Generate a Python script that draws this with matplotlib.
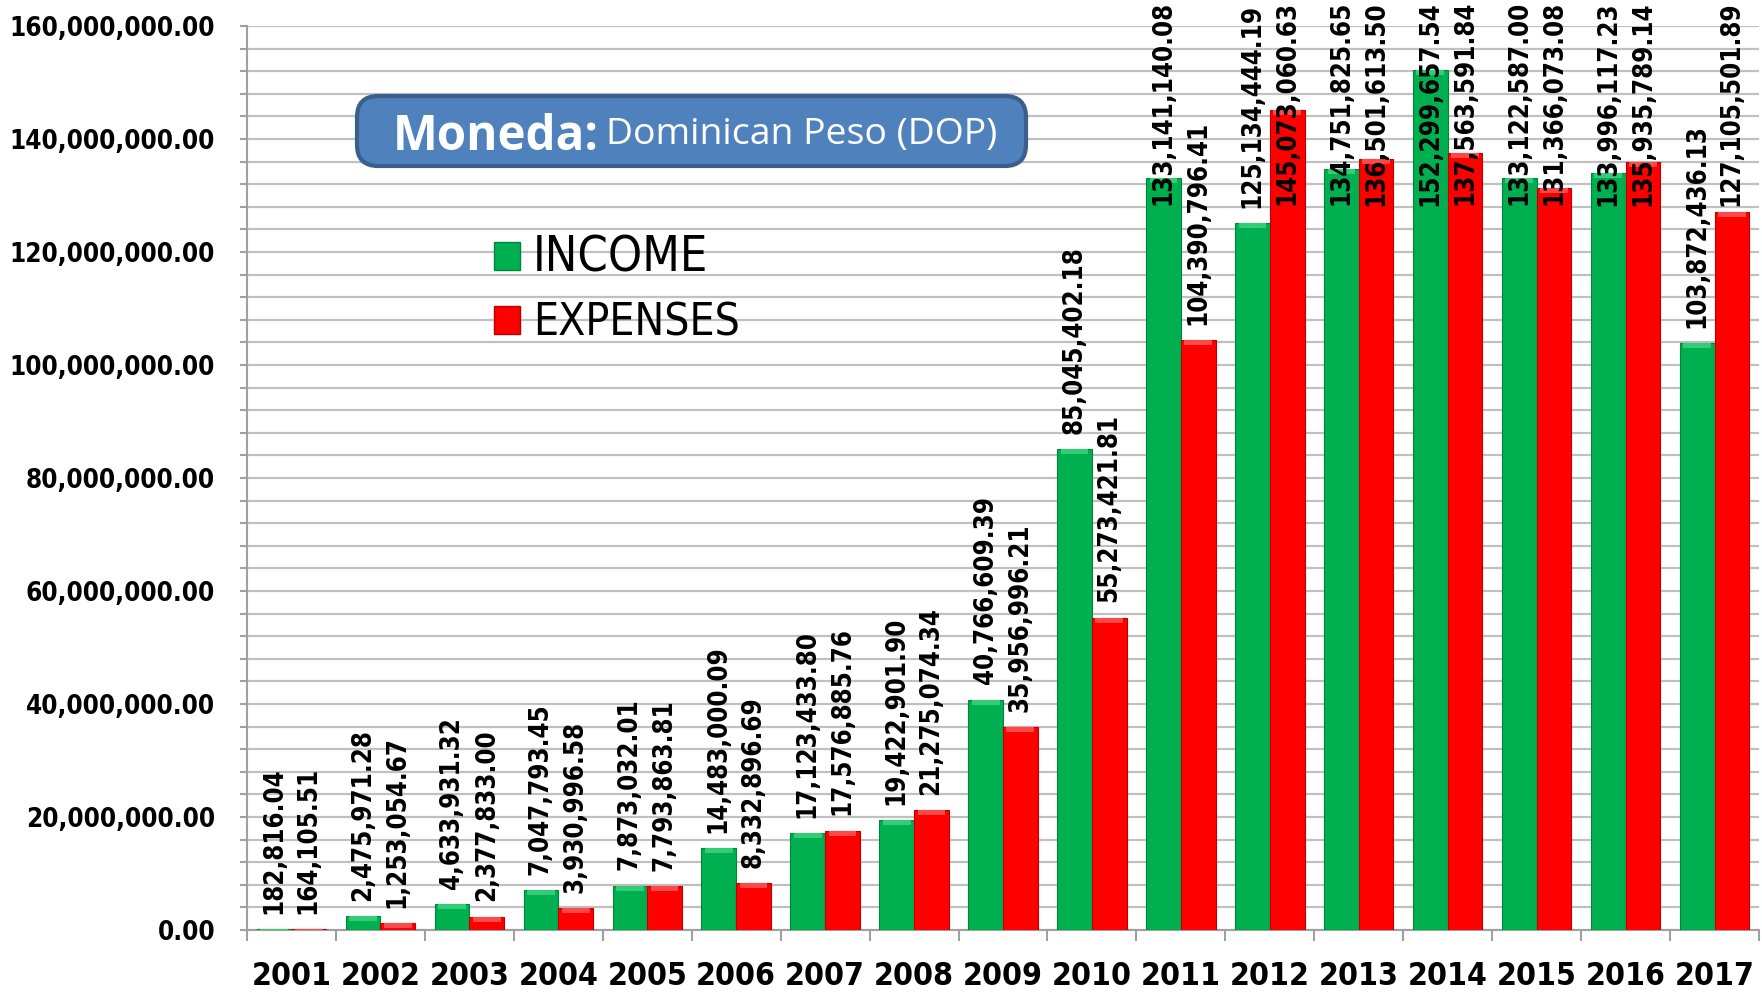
import matplotlib
matplotlib.use("Agg")
import matplotlib.pyplot as plt
import numpy as np
from matplotlib.patches import FancyBboxPatch, Rectangle
from matplotlib.ticker import MultipleLocator, FuncFormatter
from matplotlib import font_manager as fm
from matplotlib.textpath import TextPath
from matplotlib.font_manager import FontProperties

years = ["2001", "2002", "2003", "2004", "2005", "2006", "2007", "2008", "2009",
         "2010", "2011", "2012", "2013", "2014", "2015", "2016", "2017"]
income = [182816.04, 2475971.28, 4633931.32, 7047793.45, 7873032.01, 14483000.09,
          17123433.80, 19422901.90, 40766609.39, 85045402.18, 133141140.08,
          125134444.19, 134751825.65, 152299657.54, 133122587.00, 133996117.23,
          103872436.13]
expenses = [164105.51, 1253054.67, 2377833.00, 3930996.58, 7793863.81, 8332896.69,
            17576885.76, 21275074.34, 35956996.21, 55273421.81, 104390796.41,
            145073060.63, 136501613.50, 137563591.84, 131366073.08, 135935789.14,
            127105501.89]
series_names = ["INCOME", "EXPENSES"]
title_bold = "Moneda:"
title_rest = "Dominican Peso (DOP)"

W, H, DPI = 1762, 996, 100


def pick_narrow():
    names = {f.name for f in fm.fontManager.ttflist}
    if "Liberation Sans Narrow" in names:
        return "Liberation Sans Narrow", "normal"
    for f in fm.fontManager.ttflist:
        if f.name == "DejaVu Sans" and "Condensed" in f.fname:
            return "DejaVu Sans", "condensed"
    if "Roboto" in names:
        return "Roboto", "normal"
    return "DejaVu Sans", "normal"


NFAM, NSTRETCH = pick_narrow()
NARROW = [NFAM, "DejaVu Sans"]


def fit(text, target_px, family, weight="normal", stretch="normal"):
    fp = FontProperties(family=family, weight=weight, stretch=stretch)
    w = TextPath((0, 0), text, size=100, prop=fp).get_extents().width
    return 100 * target_px / (w * DPI / 72)


GREEN, GREEN_EDGE, GREEN_TOP = "#00B050", "#00863C", "#33CC77"
RED, RED_EDGE, RED_TOP = "#FF0000", "#C00000", "#FF4848"

fig = plt.figure(figsize=(W / DPI, H / DPI), dpi=DPI)
ax = fig.add_axes([247 / W, 1 - 930 / H, (1759 - 247) / W, (930 - 26) / H])

x = np.arange(len(years))
bw = 0.39
ymax = 160_000_000
bevel = ymax * 5 / 904

ax.bar(x - bw / 2, income, bw, color=GREEN, edgecolor=GREEN_EDGE, linewidth=0.8, zorder=3)
ax.bar(x + bw / 2, expenses, bw, color=RED, edgecolor=RED_EDGE, linewidth=0.8, zorder=3)
hi = np.minimum(bevel, np.array(income))
he = np.minimum(bevel, np.array(expenses))
ax.bar(x - bw / 2, hi, bw * 0.8, bottom=np.array(income) - hi, color=GREEN_TOP, linewidth=0, zorder=4)
ax.bar(x + bw / 2, he, bw * 0.8, bottom=np.array(expenses) - he, color=RED_TOP, linewidth=0, zorder=4)

ax.set_xlim(-0.5, len(years) - 0.5)
ax.set_ylim(0, ymax)
ax.yaxis.set_major_locator(MultipleLocator(20_000_000))
ax.yaxis.set_minor_locator(MultipleLocator(4_000_000))
ax.yaxis.set_major_formatter(FuncFormatter(lambda v, p: f"{v:,.2f}"))
ax.grid(True, which="both", axis="y", color="#C0C0C0", linewidth=1.6, zorder=0)
ax.set_axisbelow(True)

ax.set_xticks(x)
ax.set_xticklabels(years)
ax.set_xticks(np.arange(len(years) + 1) - 0.5, minor=True)
ax.tick_params(axis="x", which="major", length=0, pad=22)
ax.tick_params(axis="x", which="minor", length=8, width=1.5, color="#A0A0A0")
ax.tick_params(axis="y", which="both", length=5, width=1.5, color="#A0A0A0", pad=18)

BUMP = 1.08
year_fs = fit("2015", 70, NFAM, "bold", NSTRETCH) * BUMP
ytick_fs = fit("160,000,000.00", 202, NFAM, "bold", NSTRETCH)
val_fs = fit("14,483,000.09", 170, NFAM, "bold", NSTRETCH) * BUMP
for lab in ax.get_xticklabels():
    lab.set_fontfamily(NARROW)
    lab.set_fontweight("bold")
    lab.set_fontstretch(NSTRETCH)
    lab.set_fontsize(year_fs)
for lab in ax.get_yticklabels():
    lab.set_fontfamily(NARROW)
    lab.set_fontweight("bold")
    lab.set_fontstretch(NSTRETCH)
    lab.set_fontsize(ytick_fs)

for s in ("top", "right"):
    ax.spines[s].set_visible(False)
for s in ("left", "bottom"):
    ax.spines[s].set_color("#A0A0A0")
    ax.spines[s].set_linewidth(1.5)

# value labels
OFF = 11
texts = []
for xs, vals in ((x - bw / 2, income), (x + bw / 2, expenses)):
    for xi, v in zip(xs, vals):
        texts.append(ax.annotate(f"{v:,.2f}", (xi, v), xytext=(0, OFF), textcoords="offset points",
                                 rotation=90, ha="center", va="bottom", fontsize=val_fs,
                                 fontweight="bold", family=NARROW, fontstretch=NSTRETCH,
                                 zorder=6, annotation_clip=False))

fig.canvas.draw()
r = fig.canvas.get_renderer()
for t in texts:
    bb = t.get_window_extent(r)
    if bb.y1 > H - 1:
        excess = (bb.y1 - (H - 1)) * 72 / DPI
        t.set_position((0, OFF - excess))

# title box
bx0, by0, bx1, by1 = 357 / W, 1 - 166 / H, 1026 / W, 1 - 96 / H
box = FancyBboxPatch((bx0, by0), bx1 - bx0, by1 - by0, boxstyle="round,pad=0,rounding_size=0.012",
                     transform=fig.transFigure, facecolor="#4F81BD", edgecolor="#3A5F8B",
                     linewidth=3, zorder=10, mutation_aspect=W / H)
fig.add_artist(box)
TF = ["Open Sans", "DejaVu Sans"]
fig.text(393 / W, 1 - 131 / H, title_bold, color="white",
         fontsize=fit(title_bold, 199, TF[0], "bold"), fontweight="bold",
         family=TF, va="center_baseline", ha="left", zorder=11)
fig.text(606 / W, 1 - 131 / H, title_rest, color="white",
         fontsize=fit(title_rest, 387, TF[0]), family=TF, va="center_baseline", ha="left", zorder=11)

# legend (manual)
leg_colors = [(GREEN, GREEN_EDGE), (RED, RED_EDGE)]
leg_y = [256, 320]
leg_w = [162, 193]
for name, (fc, ec), yc, tw in zip(series_names, leg_colors, leg_y, leg_w):
    fig.add_artist(Rectangle((494 / W, 1 - (yc + 14) / H), 26 / W, 28 / H, transform=fig.transFigure,
                             facecolor=fc, edgecolor=ec, linewidth=1, zorder=10))
    fig.text(533 / W, 1 - (yc + 15) / H, name, fontsize=fit(name, tw, NFAM, "normal", NSTRETCH) * 1.04,
             family=NARROW, fontstretch=NSTRETCH, va="baseline", ha="left", zorder=11)

fig.savefig("out.png", dpi=DPI)
